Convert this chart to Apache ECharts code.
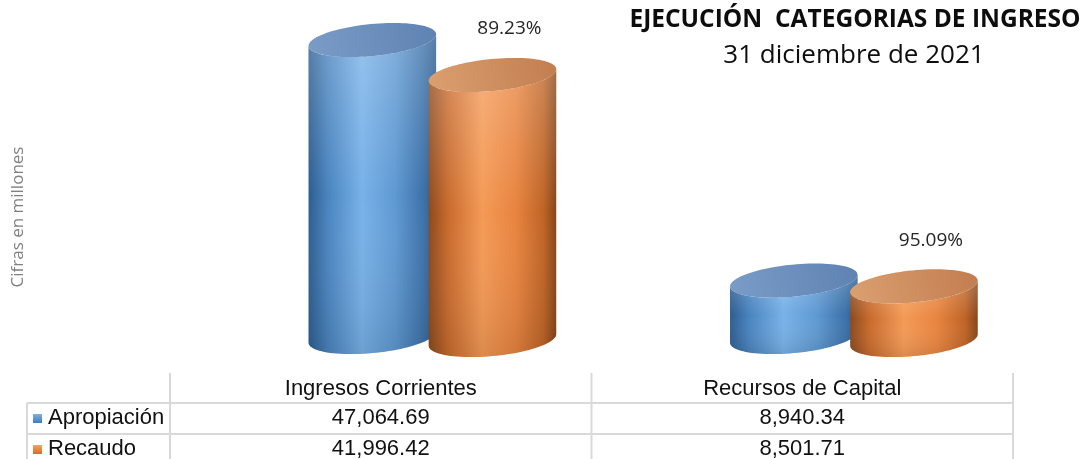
<!DOCTYPE html>
<html>
<head>
<meta charset="utf-8">
<script src="https://cdn.jsdelivr.net/npm/echarts@6/dist/echarts.min.js"></script>
<style>
  html, body { margin: 0; padding: 0; background: #ffffff; }
  #chart { width: 1084px; height: 459px; }
</style>
</head>
<body>
<div id="chart"></div>
<script>
// Income categories and amounts (millions)
const categories = ['Ingresos Corrientes', 'Recursos de Capital'];
const seriesNames = ['Apropiación', 'Recaudo'];
const apropiacion = [47064.69, 8940.34];
const recaudo = [41996.42, 8501.71];

const TITLE = 'EJECUCIÓN  CATEGORIAS DE INGRESO';
const SUBTITLE = '31 diciembre de 2021';
const AXIS_NAME = 'Cifras en millones';

// Shading for the cylinders
const PAL = {
  blue: {
    body: ['#2d5d90', '#4a84bf', '#78b2e8', '#5f99d2', '#3d72a9', '#2b5a8e'],
    top: ['#7b9cc7', '#5e82b2'],
    key: ['#7fb0e0', '#3f7cbd']
  },
  orange: {
    body: ['#8a4a1e', '#c86a2c', '#f49a56', '#e8843f', '#bf6426', '#86451a'],
    top: ['#dba070', '#c27d4f'],
    key: ['#f6a466', '#d8682a']
  }
};

const fmt = v => v.toLocaleString('en-US', { minimumFractionDigits: 2, maximumFractionDigits: 2 });

const chart = echarts.init(document.getElementById('chart'));

const TILT = -5.5 * Math.PI / 180;

function ellipsePoint(cx, cy, a, b, t) {
  return [
    cx + a * Math.cos(t) * Math.cos(TILT) - b * Math.sin(t) * Math.sin(TILT),
    cy + a * Math.cos(t) * Math.sin(TILT) + b * Math.sin(t) * Math.cos(TILT)
  ];
}

function makeCylinder(pal, shiftRatio, dropPx, withLabel) {
  return function (params, api) {
    const idx = api.value(0);
    const val = api.value(1);
    const band = api.size([1, 0])[0];
    const topP = api.coord([idx, val]);
    const baseP = api.coord([idx, 0]);
    const cx = topP[0] + band * shiftRatio;
    const topY = topP[1] + dropPx;
    const baseY = baseP[1] + dropPx;
    const a = band * 0.152;
    const b = a * 0.25;
    const t1 = Math.atan(-b * Math.tan(TILT) / a);
    const N = 48;

    const body = [];
    for (let i = 0; i <= N; i++) body.push(ellipsePoint(cx, baseY, a, b, t1 + Math.PI * i / N));
    for (let i = 0; i <= N; i++) body.push(ellipsePoint(cx, topY, a, b, t1 + Math.PI - Math.PI * i / N));

    const cap = [];
    for (let i = 0; i < 2 * N; i++) cap.push(ellipsePoint(cx, topY, a, b, Math.PI * i / N));

    const bodyFill = new echarts.graphic.LinearGradient(0, 0, 1, 0, [
      { offset: 0, color: pal.body[0] },
      { offset: 0.15, color: pal.body[1] },
      { offset: 0.42, color: pal.body[2] },
      { offset: 0.68, color: pal.body[3] },
      { offset: 0.9, color: pal.body[4] },
      { offset: 1, color: pal.body[5] }
    ]);
    const shade = new echarts.graphic.LinearGradient(0, 0, 0, 1, [
      { offset: 0, color: 'rgba(255,255,255,0.22)' },
      { offset: 0.5, color: 'rgba(255,255,255,0.0)' },
      { offset: 1, color: 'rgba(0,0,0,0.10)' }
    ]);
    const capFill = new echarts.graphic.LinearGradient(0, 1, 1, 0, [
      { offset: 0, color: pal.top[0] },
      { offset: 1, color: pal.top[1] }
    ]);

    const children = [
      { type: 'polygon', shape: { points: body }, style: { fill: bodyFill } },
      { type: 'polygon', shape: { points: body }, style: { fill: shade } },
      { type: 'polygon', shape: { points: cap }, style: { fill: capFill } }
    ];

    if (withLabel) {
      const pct = recaudo[idx] / apropiacion[idx] * 100;
      children.push({
        type: 'text',
        x: cx + 17,
        y: topY - 46,
        style: {
          text: pct.toFixed(2) + '%',
          fill: '#262626',
          font: '19px "Open Sans", sans-serif',
          align: 'center',
          verticalAlign: 'middle'
        }
      });
    }
    return { type: 'group', children };
  };
}

chart.setOption({
  animation: false,
  backgroundColor: '#ffffff',
  grid: { left: 170, right: 71, top: 21.5, bottom: 122 },
  xAxis: {
    type: 'category',
    data: categories,
    axisLine: { show: false },
    axisTick: { show: false },
    axisLabel: { show: false }
  },
  yAxis: {
    type: 'value',
    min: 0,
    max: 50000,
    axisLine: { show: false },
    axisTick: { show: false },
    axisLabel: { show: false },
    splitLine: { show: false }
  },
  series: [
    {
      name: seriesNames[0],
      type: 'custom',
      renderItem: makeCylinder(PAL.blue, -0.02, 0, false),
      encode: { x: 0, y: 1 },
      data: apropiacion.map((v, i) => [i, v])
    },
    {
      name: seriesNames[1],
      type: 'custom',
      renderItem: makeCylinder(PAL.orange, 0.265, 3, true),
      encode: { x: 0, y: 1 },
      data: recaudo.map((v, i) => [i, v])
    }
  ]
});

// Data table under the plot, aligned to the category axis
function buildTable() {
  const xs = categories.map((c, i) => chart.convertToPixel({ xAxisIndex: 0 }, i));
  const band = xs.length > 1 ? xs[1] - xs[0] : 400;
  const left = xs[0] - band / 2;
  const right = xs[xs.length - 1] + band / 2;
  const labelLeft = 27;
  const headerTop = 373;
  const rowLines = [403, 434];
  const bottom = 459;
  const lineStyle = { stroke: '#d9d9d9', lineWidth: 2 };
  const font = '22px "Liberation Sans", Arial, sans-serif';
  const ink = '#111111';

  const els = [];
  // column separators
  const vx = [left];
  for (let i = 0; i < xs.length - 1; i++) vx.push((xs[i] + xs[i + 1]) / 2);
  vx.push(right);
  vx.forEach(x => els.push({ type: 'line', shape: { x1: x, y1: headerTop, x2: x, y2: bottom }, style: lineStyle }));
  els.push({ type: 'line', shape: { x1: labelLeft, y1: rowLines[0], x2: labelLeft, y2: bottom }, style: lineStyle });
  rowLines.forEach(y => els.push({ type: 'line', shape: { x1: labelLeft, y1: y, x2: right, y2: y }, style: lineStyle }));

  // header
  categories.forEach((c, i) => els.push({
    type: 'text', x: xs[i], y: 389,
    style: { text: c, font, fill: ink, align: 'center', verticalAlign: 'middle' }
  }));

  const rows = [
    { name: seriesNames[0], values: apropiacion, key: PAL.blue.key },
    { name: seriesNames[1], values: recaudo, key: PAL.orange.key }
  ];
  const rowCenters = [418, 449];
  rows.forEach((r, ri) => {
    const cy = rowCenters[ri];
    els.push({
      type: 'rect', shape: { x: 33, y: cy - 4, width: 9, height: 9 },
      style: { fill: new echarts.graphic.LinearGradient(0, 0, 0, 1, [
        { offset: 0, color: r.key[0] }, { offset: 1, color: r.key[1] }
      ]) }
    });
    els.push({
      type: 'text', x: 48, y: cy,
      style: { text: r.name, font, fill: ink, align: 'left', verticalAlign: 'middle' }
    });
    r.values.forEach((v, i) => els.push({
      type: 'text', x: xs[i], y: cy,
      style: { text: fmt(v), font, fill: ink, align: 'center', verticalAlign: 'middle' }
    }));
  });

  // vertical unit note
  els.push({
    type: 'text', x: 18, y: 217, rotation: Math.PI / 2,
    style: { text: AXIS_NAME, font: '17px "Open Sans", sans-serif', fill: '#808080', align: 'center', verticalAlign: 'middle' }
  });

  // titles
  els.push({
    type: 'text', x: 855, y: 20,
    style: { text: TITLE, font: 'bold 24.5px "Open Sans", sans-serif', fill: '#0d0d0d', align: 'center', verticalAlign: 'middle' }
  });
  els.push({
    type: 'text', x: 854, y: 56,
    style: { text: SUBTITLE, font: '26px "Open Sans", sans-serif', fill: '#0d0d0d', align: 'center', verticalAlign: 'middle' }
  });

  chart.setOption({ graphic: { elements: els } });
}
buildTable();
</script>
</body>
</html>
